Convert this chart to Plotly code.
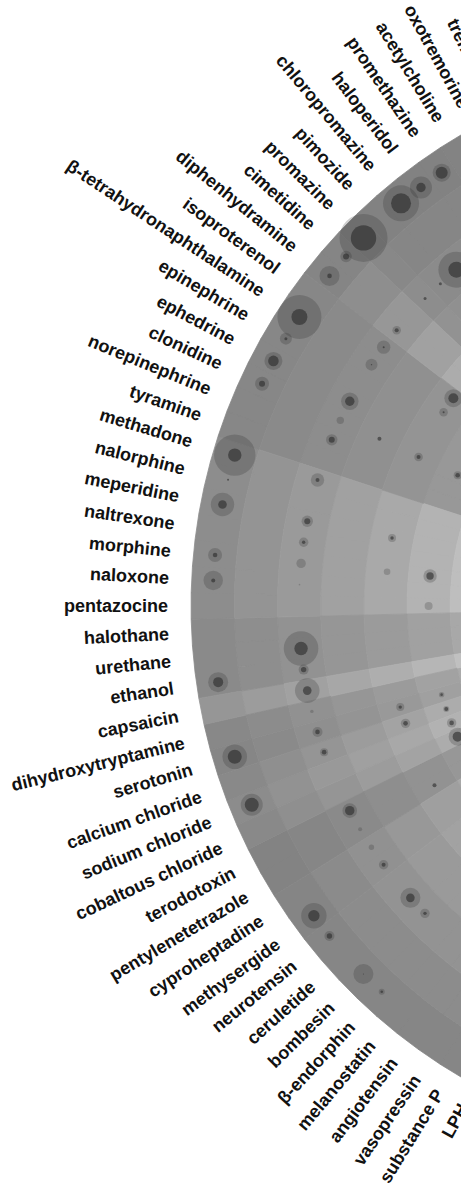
import numpy as np
import plotly.graph_objects as go

# ---------------- data ----------------
compounds = [
    "tremorine", "oxotremorine", "acetylcholine", "promethazine", "haloperidol",
    "chloropromazine", "pimozide", "promazine", "cimetidine", "diphenhydramine",
    "isoproterenol", "β-tetrahydronaphthalamine", "epinephrine", "ephedrine", "clonidine",
    "norepinephrine", "tyramine", "methadone", "nalorphine", "meperidine", "naltrexone",
    "morphine", "naloxone", "pentazocine", "halothane", "urethane", "ethanol", "capsaicin",
    "dihydroxytryptamine", "serotonin", "calcium chloride", "sodium chloride",
    "cobaltous chloride", "terodotoxin", "pentylenetetrazole", "cyproheptadine",
    "methysergide", "neurotensin", "ceruletide", "bombesin", "β-endorphin", "melanostatin",
    "angiotensin", "vasopressin", "substance P", "LPH",
]

# gray level of each compound's outermost cell, and how fast it lightens per ring
outer_gray = [
    131, 131, 131,
    130, 130, 130, 130, 131,
    133, 133,
    135, 135, 135, 135, 135, 135, 135,
    141, 141, 141, 141, 141, 141, 141,
    138, 138, 138,
    150,
    136, 134,
    137, 140, 137,
    131, 131,
    133, 133,
    134, 134, 134, 134, 134, 134, 134, 134, 134,
]
gray_slope = [
    5, 5, 5,
    4.5, 4.5, 4.5, 4.5, 5,
    9, 9,
    3, 3, 3, 3, 3, 3, 3,
    6.5, 6.5, 6.5, 6.5, 6.5, 6.5, 6.5,
    4, 4, 4,
    5.5,
    4.5, 4.5,
    6, 6.5, 6,
    3.5, 3.5,
    6, 6,
    6.5, 6.5, 6.5, 6.5, 6.5, 6.5, 6.5, 6.5, 6.5,
]
ring_factor = [0, 1, 2, 3.1, 4.3, 5.8, 7.6, 9.6, 11.8, 14, 16.2, 18.5]

# bubbles: compound, ring (0 = outermost), outer halo radius, inner core radius (px)
bubble_compound = [
    "promethazine", "haloperidol", "chloropromazine", "promazine", "chloropromazine",
    "cimetidine", "diphenhydramine", "β-tetrahydronaphthalamine", "epinephrine", "ephedrine",
    "clonidine", "pimozide", "diphenhydramine", "isoproterenol", "β-tetrahydronaphthalamine",
    "promazine", "methadone", "nalorphine", "meperidine", "morphine", "naloxone",
    "ephedrine", "clonidine", "norepinephrine", "methadone", "meperidine", "naltrexone",
    "morphine", "naloxone", "clonidine", "clonidine", "isoproterenol",
    "β-tetrahydronaphthalamine", "clonidine", "meperidine", "morphine", "morphine",
    "pentazocine", "urethane", "ethanol", "ethanol", "capsaicin", "dihydroxytryptamine",
    "serotonin", "calcium chloride", "serotonin", "sodium chloride", "terodotoxin",
    "pentylenetetrazole", "cyproheptadine", "methysergide", "serotonin", "calcium chloride",
    "serotonin", "calcium chloride", "sodium chloride", "cobaltous chloride",
    "pentylenetetrazole", "ceruletide", "bombesin", "methysergide", "neurotensin",
    "bombesin", "β-endorphin",
]
bubble_ring = [
    0, 0, 0, 0, 2,
    0, 0, 0, 0, 0,
    0, 2, 2, 2, 2,
    2, 0, 0, 0, 0, 0,
    2, 2, 2, 2, 2, 2,
    2, 2, 3, 4, 4,
    4, 5, 4, 4, 5,
    5, 2, 2, 0, 2, 2,
    2, 2, 0, 0, 2,
    2, 2, 2, 4, 4,
    5, 5, 5, 5,
    4, 2, 2, 0, 0,
    0, 0,
]
bubble_outer = [
    9, 11, 18, 24, 18,
    5.7, 10, 22, 6, 9,
    7, 0, 4.3, 6.7, 6,
    0, 20.7, 0, 11.7, 7, 9.7,
    8.7, 3.7, 5.7, 6.7, 5.7, 4.7,
    4.7, 0.8, 0, 4.3, 9,
    4.3, 4, 4, 3.3, 6.7,
    4, 17.3, 5, 10, 12.3, 1.7,
    5, 4, 12.3, 11, 7.3,
    2, 2.7, 4.7, 4, 4.7,
    2.7, 3, 4.7, 9,
    0, 10, 4.7, 12.7, 5,
    10, 3,
]
bubble_inner = [
    6, 4.7, 10, 12.7, 8,
    3, 2.3, 8, 1.5, 5.3,
    3, 1.5, 2, 1, 0.7,
    1.5, 6.7, 1, 4.3, 2.3, 2,
    4.7, 0, 3, 2, 3, 1.7,
    0, 0, 2, 2, 5,
    1, 2.3, 1.7, 0, 3.7,
    0, 6.7, 2.7, 5, 4.3, 0,
    2.3, 2.3, 7, 7, 4.7,
    0, 0, 2, 1.7, 2.3,
    1.3, 2, 2.3, 5,
    2, 4.3, 1.7, 5.7, 2.7,
    0.5, 1.3,
]

# ---------------- geometry of the wheel ----------------
W, H = 461, 1184
CX, CY = 737.0, 606.0          # wheel centre in figure pixels (outside the window)
R_OUT = 546.0
RING_W = 43.2
STEP = 2.786                   # degrees per compound
THETA_FIRST = 64.086           # angle (deg, above the left horizontal) of first compound
LABEL_R = 569.0
FONT_SIZE = 18

theta = {c: THETA_FIRST - STEP * j for j, c in enumerate(compounds)}


def ring_mid(k):
    return R_OUT - RING_W * (k + 0.5)


fig = go.Figure()

# ---- cells (annular sectors) ----
by_color = {}
for j, c in enumerate(compounds):
    a0 = theta[c] - STEP / 2
    a1 = theta[c] + STEP / 2
    for k, f in enumerate(ring_factor):
        r1 = R_OUT - RING_W * k
        r0 = R_OUT - RING_W * (k + 1)
        g = int(round(np.clip(outer_gray[j] + gray_slope[j] * f, 0, 245)))
        col = f"rgb({g},{g},{g})"
        t = np.radians(np.linspace(a0, a1, 10))
        xs = np.concatenate([-r1 * np.cos(t), -r0 * np.cos(t[::-1])])
        ys = np.concatenate([r1 * np.sin(t), r0 * np.sin(t[::-1])])
        lst = by_color.setdefault(col, ([], []))
        lst[0].extend(list(xs) + [xs[0], None])
        lst[1].extend(list(ys) + [ys[0], None])

for col, (xs, ys) in by_color.items():
    fig.add_trace(go.Scatter(
        x=xs, y=ys, mode="lines", fill="toself", fillcolor=col,
        line=dict(color=col, width=0.8), hoverinfo="skip", showlegend=False))

# ---- bubbles ----
bx = [-ring_mid(k) * np.cos(np.radians(theta[c])) for c, k in zip(bubble_compound, bubble_ring)]
by = [ring_mid(k) * np.sin(np.radians(theta[c])) for c, k in zip(bubble_compound, bubble_ring)]

ho = [i for i, v in enumerate(bubble_outer) if v > 0]
fig.add_trace(go.Scatter(
    x=[bx[i] for i in ho], y=[by[i] for i in ho], mode="markers",
    marker=dict(size=[2 * bubble_outer[i] for i in ho], color="rgba(45,45,45,0.33)",
                line=dict(width=0)),
    hoverinfo="skip", showlegend=False))
ci = [i for i, v in enumerate(bubble_inner) if v > 0]
fig.add_trace(go.Scatter(
    x=[bx[i] for i in ci], y=[by[i] for i in ci], mode="markers",
    marker=dict(size=[2 * bubble_inner[i] for i in ci], color="rgba(42,42,42,0.85)",
                line=dict(width=0)),
    hoverinfo="skip", showlegend=False))

# ---- radial labels ----
HB = {' ': 278, 'a': 556, 'b': 611, 'c': 556, 'd': 611, 'e': 556, 'f': 333, 'g': 611,
      'h': 611, 'i': 278, 'j': 278, 'k': 556, 'l': 278, 'm': 889, 'n': 611, 'o': 611,
      'p': 611, 'q': 611, 'r': 389, 's': 556, 't': 333, 'u': 611, 'v': 556, 'w': 778,
      'x': 556, 'y': 556, 'z': 500, '-': 333, 'P': 667, 'L': 611, 'H': 722, 'β': 600}


def text_w(s):
    return sum(HB.get(ch, 600) for ch in s) * FONT_SIZE / 1000.0


annotations = []
for c in compounds:
    th = theta[c]
    rho = LABEL_R + text_w(c) / 2
    xs = CX - rho * np.cos(np.radians(th))
    ys = CY - rho * np.sin(np.radians(th))
    annotations.append(dict(
        x=xs / W, y=1 - ys / H, xref="paper", yref="paper", text=c,
        showarrow=False, textangle=th, xanchor="center", yanchor="middle",
        font=dict(family="Liberation Sans, Arial, sans-serif", size=FONT_SIZE,
                  color="#111111", weight="bold")))

fig.update_layout(
    width=W, height=H, margin=dict(l=0, r=0, t=0, b=0),
    paper_bgcolor="white", plot_bgcolor="white",
    xaxis=dict(range=[-CX, W - CX], visible=False, fixedrange=True),
    yaxis=dict(range=[CY - H, CY], visible=False, fixedrange=True),
    annotations=annotations, showlegend=False,
)

# let the figure fill the window exactly (no page margin, no scrollbars)
page_fit = ("document.documentElement.style.overflow='hidden';"
            "document.body.style.overflow='hidden';"
            "document.body.style.margin='0';")
fig.write_html("out.html", post_script=page_fit,
               config={"displayModeBar": False, "staticPlot": True})
